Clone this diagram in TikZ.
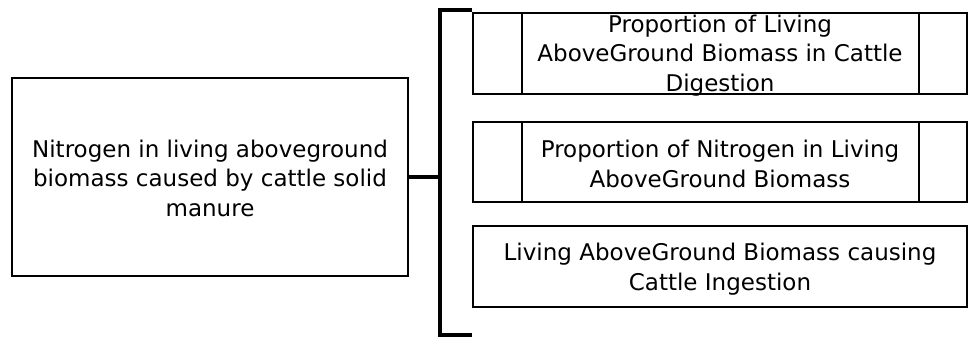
\documentclass[tikz,border=0pt]{standalone}
\usepackage{fontspec}
\setmainfont{DejaVu Sans}
\begin{document}
\begin{tikzpicture}[x=1pt,y=-1pt,
  box/.style={draw, line width=2pt, inner sep=0pt},
  panel/.style={line width=2pt},
  label/.style={align=center, inner sep=0pt, font=\fontsize{23}{29.5}\selectfont},
  bracket/.style={line width=4.5pt}]
\useasboundingbox (0,0) rectangle (970,339);

% source box on the left
\node[box, minimum width=396pt, minimum height=198pt] (src) at (210,177) {};
\node[label] at ([yshift=-1pt]src.center) {Nitrogen in living aboveground\\biomass caused by cattle solid\\manure};

% three component boxes on the right
\node[box, minimum width=494pt, minimum height=81pt] (b1) at (720,53.5) {};
\node[box, minimum width=494pt, minimum height=80pt] (b2) at (720,162) {};
\node[box, minimum width=494pt, minimum height=81pt] (b3) at (720,267) {};

% side panels of the first two boxes
\foreach \b in {b1,b2}{
  \draw[panel] ([xshift=50pt]\b.north west) -- ([xshift=50pt]\b.south west);
  \draw[panel] ([xshift=-49pt]\b.north east) -- ([xshift=-49pt]\b.south east);
}

\node[label] at ([yshift=-2pt]b1.center) {Proportion of Living\\AboveGround Biomass in Cattle\\Digestion};
\node[label] at ([yshift=-2pt]b2.center) {Proportion of Nitrogen in Living\\AboveGround Biomass};
\node[label] at ([yshift=-2pt]b3.center) {Living AboveGround Biomass causing\\Cattle Ingestion};

% bracket joining the source to its components
\coordinate (top) at (440,10);
\coordinate (bot) at (440,335);
\coordinate (topend) at (472,10);
\coordinate (botend) at (472,335);
\draw[bracket] (topend) -- (top) -- (bot) -- (botend);
\draw[bracket] (src.east) -- (src.east -| top);
\end{tikzpicture}
\end{document}
